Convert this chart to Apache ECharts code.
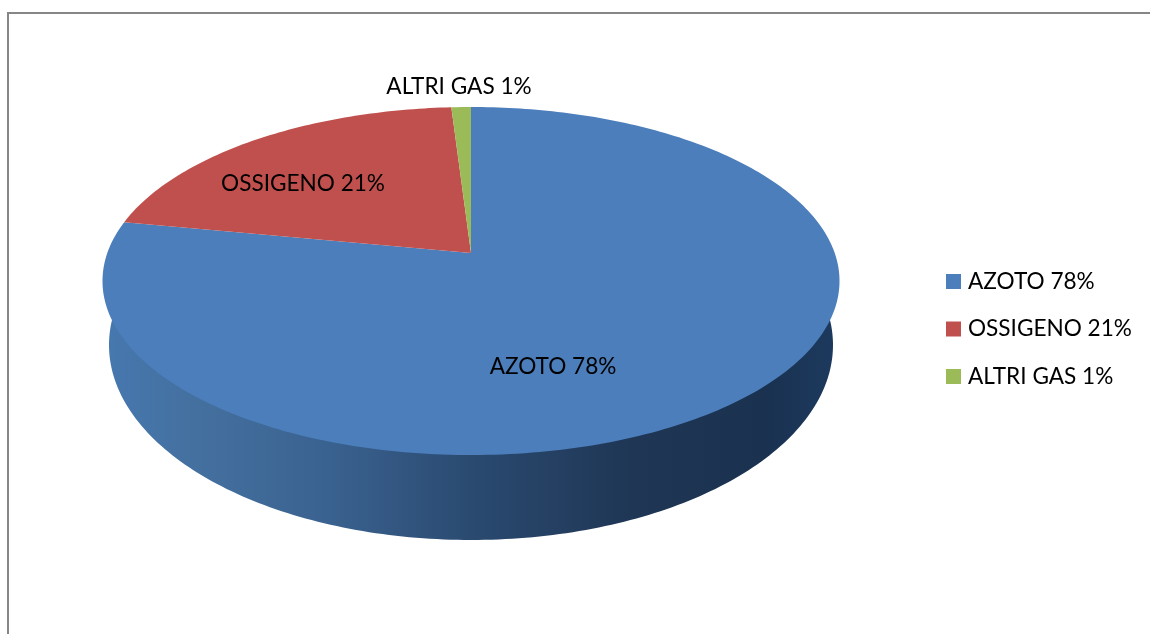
<!DOCTYPE html>
<html>
<head>
<meta charset="utf-8">
<style>html,body{margin:0;padding:0;background:#fff}#c{width:1150px;height:634px}</style>
<script src="https://cdn.jsdelivr.net/npm/echarts@6/dist/echarts.min.js"></script>
</head>
<body>
<div id="c"></div>
<script>
const categories = ['AZOTO 78%', 'OSSIGENO 21%', 'ALTRI GAS 1%'];
const values = [78, 21, 1];
const colors = ['#4b7ebb', '#c0504d', '#9bbb59'];
const labelCenters = [[553, 367], [303, 184], [459, 87]];
const FONT = 'Lato, Carlito, sans-serif';
const FONT_SIZE = 22.6;

// Perspective projection of the disc onto the page
const apex = [471, 253], persp = -0.161, ax = 363.7, ay = 169.5;
function project(frac) {
  const t = frac * 2 * Math.PI, u = Math.sin(t), v = -Math.cos(t), d = 1 + persp * v;
  return [apex[0] + ax * u / d, apex[1] + ay * v / d];
}
const total = values.reduce((a, b) => a + b, 0);
function wall() {
  const pts = [[836, 295]], cx = 471, cy = 345, rx = 362, ry = 195, a0 = Math.asin((318 - cy) / ry);
  for (let i = 0; i <= 180; i++) {
    const a = a0 + (Math.PI - 2 * a0) * i / 180;
    pts.push([cx + rx * Math.cos(a), cy + ry * Math.sin(a)]);
  }
  return pts;
}
function renderSlice(index) {
  return function (params, api) {
    const start = values.slice(0, index).reduce((a, b) => a + b, 0) / total;
    const end = start + api.value(0) / total;
    const pts = [apex];
    const n = Math.max(4, Math.ceil((end - start) * 360));
    for (let i = 0; i <= n; i++) pts.push(project(start + (end - start) * i / n));
    const children = [];
    if (index === 0) {
      children.push({
        type: 'polygon', shape: { points: wall() },
        style: {
          fill: new echarts.graphic.LinearGradient(0, 0, 1, 0, [
            { offset: 0, color: '#4677ae' },
            { offset: 0.12, color: '#44709f' },
            { offset: 0.3, color: '#3a6290' },
            { offset: 0.5, color: '#2a4a70' },
            { offset: 0.72, color: '#1f3655' },
            { offset: 0.9, color: '#1a3150' },
            { offset: 1, color: '#1c3a5e' }
          ])
        }
      });
    }
    children.push({ type: 'polygon', shape: { points: pts }, style: { fill: colors[index] } });
    children.push({
      type: 'text', z2: 10,
      style: {
        text: categories[index], x: labelCenters[index][0], y: labelCenters[index][1],
        align: 'center', verticalAlign: 'middle', fill: '#000',
        font: FONT_SIZE + 'px ' + FONT
      }
    });
    return { type: 'group', children };
  };
}
const chart = echarts.init(document.getElementById('c'), null, { renderer: 'canvas' });
chart.setOption({
  animation: false,
  backgroundColor: '#fff',
  legend: {
    orient: 'vertical', left: 946, top: 270, padding: 0, icon: 'rect',
    itemWidth: 15, itemHeight: 15, itemGap: 24.5, selectedMode: false,
    data: categories,
    textStyle: { fontFamily: FONT, fontSize: FONT_SIZE, color: '#000', lineHeight: 20, padding: [0, 0, 0, 2] }
  },
  graphic: [
    { type: 'polyline', silent: true, shape: { points: [[8, 634], [8, 13], [1150, 13]] },
      style: { stroke: '#868686', lineWidth: 2, fill: null } }
  ],
  series: categories.map((name, i) => ({
    type: 'custom', name, coordinateSystem: 'none',
    itemStyle: { color: colors[i] },
    renderItem: renderSlice(i),
    data: [[values[i]]],
    silent: true
  }))
});
</script>
</body>
</html>
